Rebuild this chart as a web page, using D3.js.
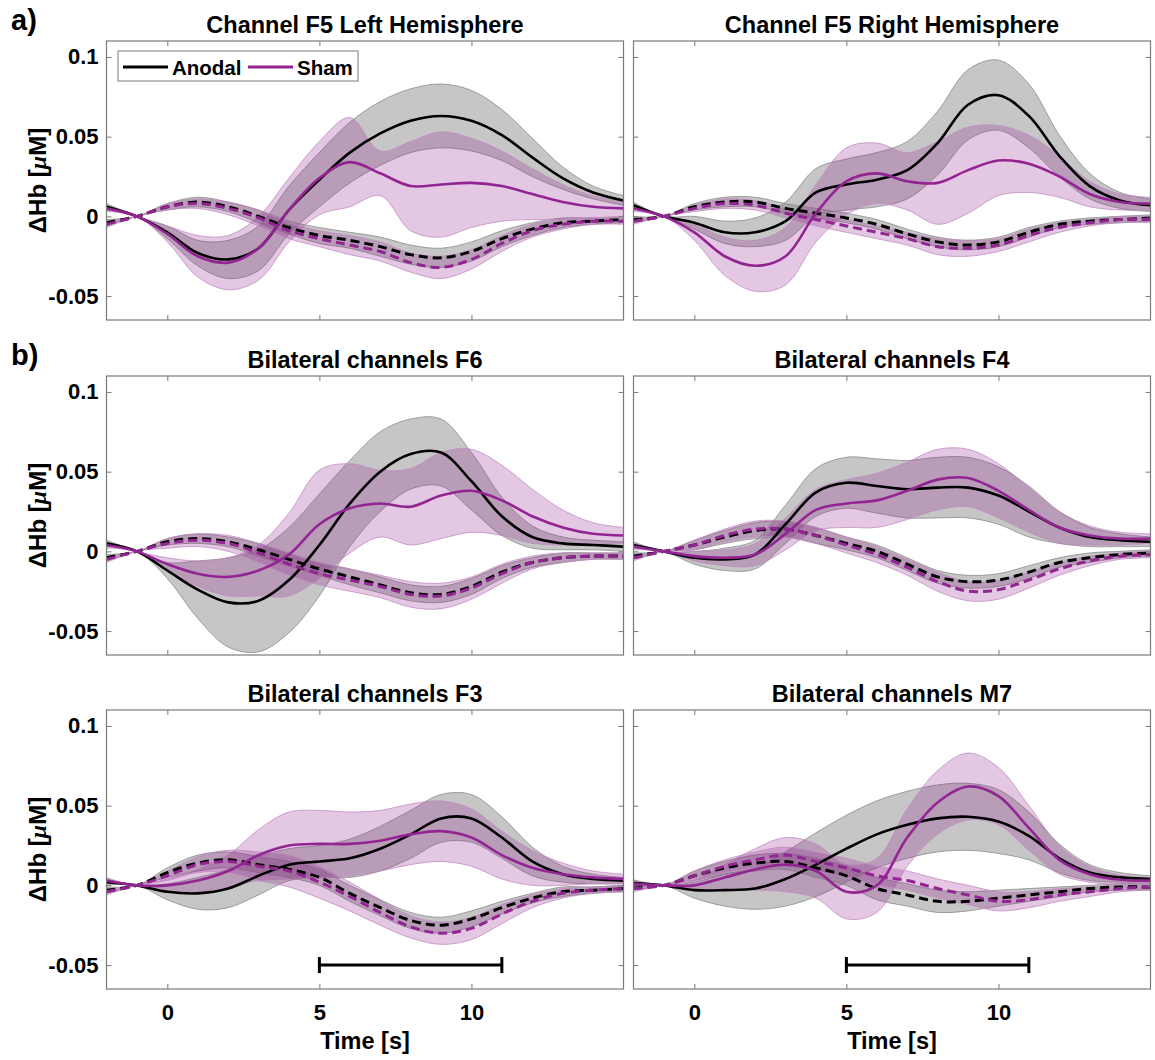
<!DOCTYPE html>
<html>
<head>
	<title>ΔHb time courses</title>
	<meta http-equiv="Content-Type" content="text/html; charset=utf-8" />
	<script type="text/javascript" charset="utf-8" src="https://cdn.jsdelivr.net/npm/d3@7/dist/d3.min.js"></script>
	<style type="text/css">
	body {
		margin: 0px;
		background-color: #fff;
	}
	svg text {
		font-family: "Liberation Sans", Arial, sans-serif;
		font-weight: bold;
		fill: #000;
	}
	</style>
</head>
<body>

<svg id="chart" width="1155" height="1060" version="1.1" xmlns="http://www.w3.org/2000/svg"></svg>

<script type="text/javascript">

// ---- data, one value per second from -2 s to 15 s ----
var v_Times       = [-2, -1, 0, 1, 2, 3, 4, 5, 6, 7, 8, 9, 10, 11, 12, 13, 14, 15];
var v_XTicks      = [0, 5, 10];
var v_YTicks      = [-0.05, 0, 0.05, 0.1];
var v_YTickLabels = ["-0.05", "0", "0.05", "0.1"];
var v_StimBar     = [5, 11];
var v_Legend      = ["Anodal", "Sham"];
var v_Titles      = ["Channel F5 Left Hemisphere", "Channel F5 Right Hemisphere",
                     "Bilateral channels F6", "Bilateral channels F4",
                     "Bilateral channels F3", "Bilateral channels M7"];

// Channel F5 left
var f5l_anoO     = [0.006, 0, -0.010, -0.023, -0.027, -0.020, 0.004, 0.023, 0.040, 0.052, 0.060, 0.063, 0.060, 0.051, 0.037, 0.024, 0.015, 0.010];
var f5l_anoOErr  = [0.002, 0, 0.004, 0.008, 0.012, 0.014, 0.015, 0.017, 0.019, 0.020, 0.020, 0.020, 0.019, 0.016, 0.012, 0.007, 0.004, 0.003];
var f5l_shamO    = [0.005, 0, -0.011, -0.025, -0.029, -0.020, 0.004, 0.024, 0.034, 0.027, 0.019, 0.020, 0.021, 0.019, 0.014, 0.009, 0.006, 0.005];
var f5l_shamOErr = [0.002, 0, 0.005, 0.013, 0.017, 0.020, 0.020, 0.023, 0.028, 0.014, 0.028, 0.033, 0.028, 0.022, 0.016, 0.011, 0.007, 0.005];
var f5l_anoR     = [-0.004, 0, 0.006, 0.009, 0.006, 0.000, -0.007, -0.012, -0.015, -0.019, -0.024, -0.026, -0.022, -0.014, -0.008, -0.004, -0.003, -0.002];
var f5l_anoRErr  = [0.002, 0, 0.002, 0.003, 0.003, 0.004, 0.004, 0.005, 0.005, 0.006, 0.006, 0.006, 0.006, 0.005, 0.004, 0.003, 0.002, 0.002];
var f5l_shamR    = [-0.005, 0, 0.006, 0.008, 0.005, -0.001, -0.009, -0.014, -0.018, -0.022, -0.029, -0.032, -0.027, -0.017, -0.009, -0.005, -0.003, -0.003];
var f5l_shamRErr = [0.002, 0, 0.002, 0.003, 0.004, 0.005, 0.005, 0.005, 0.006, 0.006, 0.006, 0.007, 0.006, 0.005, 0.004, 0.003, 0.002, 0.002];

// Channel F5 right
var f5r_anoO     = [0.007, 0, -0.004, -0.010, -0.010, -0.003, 0.015, 0.020, 0.023, 0.029, 0.046, 0.070, 0.076, 0.063, 0.038, 0.019, 0.010, 0.007];
var f5r_anoOErr  = [0.002, 0, 0.004, 0.007, 0.009, 0.012, 0.015, 0.016, 0.017, 0.018, 0.020, 0.022, 0.022, 0.020, 0.013, 0.008, 0.005, 0.004];
var f5r_shamO    = [0.005, 0, -0.010, -0.025, -0.031, -0.025, 0.002, 0.022, 0.027, 0.022, 0.021, 0.029, 0.035, 0.033, 0.025, 0.014, 0.009, 0.008];
var f5r_shamOErr = [0.002, 0, 0.005, 0.012, 0.016, 0.018, 0.018, 0.021, 0.019, 0.018, 0.026, 0.027, 0.022, 0.018, 0.013, 0.008, 0.005, 0.004];
var f5r_anoR     = [-0.002, 0, 0.006, 0.009, 0.009, 0.005, 0.002, -0.001, -0.005, -0.011, -0.016, -0.018, -0.016, -0.010, -0.005, -0.003, -0.002, -0.001];
var f5r_anoRErr  = [0.002, 0, 0.002, 0.003, 0.003, 0.003, 0.003, 0.003, 0.003, 0.003, 0.003, 0.003, 0.003, 0.003, 0.002, 0.002, 0.002, 0.002];
var f5r_shamR    = [-0.003, 0, 0.005, 0.008, 0.007, 0.002, -0.002, -0.006, -0.010, -0.014, -0.019, -0.020, -0.018, -0.012, -0.007, -0.004, -0.002, -0.002];
var f5r_shamRErr = [0.002, 0, 0.002, 0.003, 0.003, 0.003, 0.004, 0.004, 0.004, 0.004, 0.005, 0.005, 0.004, 0.004, 0.003, 0.002, 0.002, 0.002];

// Bilateral F6
var f6_anoO      = [0.005, 0, -0.012, -0.024, -0.032, -0.031, -0.018, 0.004, 0.030, 0.050, 0.061, 0.062, 0.044, 0.022, 0.009, 0.005, 0.004, 0.003];
var f6_anoOErr   = [0.002, 0, 0.005, 0.018, 0.028, 0.032, 0.033, 0.032, 0.027, 0.025, 0.022, 0.021, 0.018, 0.012, 0.007, 0.004, 0.003, 0.003];
var f6_shamO     = [0.004, 0, -0.008, -0.014, -0.016, -0.012, -0.002, 0.017, 0.027, 0.030, 0.028, 0.035, 0.038, 0.032, 0.022, 0.015, 0.011, 0.010];
var f6_shamOErr  = [0.002, 0, 0.004, 0.008, 0.012, 0.016, 0.026, 0.034, 0.028, 0.021, 0.024, 0.027, 0.026, 0.022, 0.017, 0.011, 0.007, 0.005];
var f6_anoR      = [-0.004, 0, 0.006, 0.008, 0.006, 0.001, -0.005, -0.011, -0.016, -0.021, -0.026, -0.027, -0.022, -0.013, -0.007, -0.004, -0.003, -0.003];
var f6_anoRErr   = [0.002, 0, 0.002, 0.003, 0.003, 0.004, 0.004, 0.004, 0.005, 0.005, 0.005, 0.005, 0.005, 0.004, 0.003, 0.003, 0.002, 0.002];
var f6_shamR     = [-0.005, 0, 0.005, 0.007, 0.005, -0.001, -0.008, -0.014, -0.018, -0.022, -0.027, -0.028, -0.023, -0.014, -0.007, -0.004, -0.003, -0.003];
var f6_shamRErr  = [0.002, 0, 0.003, 0.004, 0.005, 0.006, 0.007, 0.007, 0.007, 0.007, 0.008, 0.008, 0.007, 0.006, 0.004, 0.003, 0.002, 0.002];

// Bilateral F4
var f4_anoO      = [0.004, 0, -0.004, -0.005, -0.002, 0.017, 0.037, 0.043, 0.041, 0.039, 0.040, 0.040, 0.035, 0.025, 0.015, 0.009, 0.007, 0.006];
var f4_anoOErr   = [0.002, 0, 0.004, 0.007, 0.009, 0.012, 0.015, 0.016, 0.017, 0.018, 0.019, 0.019, 0.018, 0.016, 0.010, 0.006, 0.004, 0.003];
var f4_shamO     = [0.003, 0, -0.003, -0.004, -0.002, 0.011, 0.026, 0.030, 0.032, 0.038, 0.045, 0.046, 0.038, 0.026, 0.015, 0.010, 0.008, 0.008];
var f4_shamOErr  = [0.002, 0, 0.003, 0.005, 0.007, 0.010, 0.013, 0.015, 0.017, 0.018, 0.019, 0.018, 0.017, 0.014, 0.010, 0.006, 0.004, 0.003];
var f4_anoR      = [-0.003, 0, 0.004, 0.009, 0.013, 0.014, 0.010, 0.005, 0.000, -0.008, -0.016, -0.019, -0.018, -0.013, -0.007, -0.004, -0.002, -0.001];
var f4_anoRErr   = [0.002, 0, 0.003, 0.004, 0.005, 0.005, 0.005, 0.004, 0.004, 0.004, 0.004, 0.004, 0.004, 0.004, 0.003, 0.003, 0.002, 0.002];
var f4_shamR     = [-0.004, 0, 0.004, 0.010, 0.014, 0.014, 0.010, 0.004, -0.002, -0.010, -0.019, -0.025, -0.024, -0.018, -0.011, -0.006, -0.003, -0.002];
var f4_shamRErr  = [0.002, 0, 0.003, 0.004, 0.005, 0.005, 0.005, 0.005, 0.005, 0.005, 0.006, 0.006, 0.006, 0.005, 0.004, 0.003, 0.002, 0.002];

// Bilateral F3
var f3_anoO      = [0.002, 0, -0.004, -0.005, -0.002, 0.006, 0.013, 0.015, 0.017, 0.023, 0.032, 0.042, 0.042, 0.030, 0.015, 0.007, 0.004, 0.003];
var f3_anoOErr   = [0.002, 0, 0.005, 0.010, 0.012, 0.012, 0.010, 0.010, 0.012, 0.014, 0.015, 0.015, 0.015, 0.013, 0.009, 0.005, 0.003, 0.002];
var f3_shamO     = [0.003, 0, 0.000, 0.003, 0.009, 0.019, 0.025, 0.026, 0.026, 0.028, 0.032, 0.034, 0.030, 0.019, 0.011, 0.007, 0.005, 0.004];
var f3_shamOErr  = [0.002, 0, 0.004, 0.007, 0.010, 0.016, 0.021, 0.021, 0.020, 0.019, 0.019, 0.019, 0.018, 0.015, 0.011, 0.007, 0.004, 0.003];
var f3_anoR      = [-0.003, 0, 0.008, 0.014, 0.016, 0.013, 0.010, 0.005, -0.005, -0.014, -0.022, -0.025, -0.021, -0.014, -0.008, -0.004, -0.003, -0.002];
var f3_anoRErr   = [0.002, 0, 0.003, 0.005, 0.005, 0.005, 0.005, 0.005, 0.005, 0.005, 0.005, 0.005, 0.005, 0.004, 0.003, 0.003, 0.002, 0.002];
var f3_shamR     = [-0.004, 0, 0.006, 0.013, 0.015, 0.012, 0.009, 0.002, -0.007, -0.017, -0.026, -0.030, -0.027, -0.018, -0.010, -0.005, -0.003, -0.002];
var f3_shamRErr  = [0.002, 0, 0.003, 0.005, 0.007, 0.009, 0.010, 0.010, 0.009, 0.008, 0.007, 0.007, 0.007, 0.006, 0.004, 0.003, 0.002, 0.002];

// Bilateral M7
var m7_anoO      = [0.0015, 0, -0.003, -0.003, -0.002, 0.004, 0.013, 0.023, 0.032, 0.038, 0.042, 0.043, 0.040, 0.031, 0.017, 0.008, 0.005, 0.004];
var m7_anoOErr   = [0.002, 0, 0.005, 0.010, 0.013, 0.017, 0.020, 0.021, 0.021, 0.021, 0.021, 0.021, 0.020, 0.015, 0.009, 0.005, 0.003, 0.002];
var m7_shamO     = [0.001, 0, 0.000, 0.005, 0.010, 0.013, 0.009, -0.004, 0.000, 0.030, 0.052, 0.062, 0.056, 0.036, 0.016, 0.007, 0.0035, 0.003];
var m7_shamOErr  = [0.002, 0, 0.003, 0.008, 0.013, 0.017, 0.017, 0.017, 0.017, 0.018, 0.020, 0.021, 0.018, 0.014, 0.009, 0.005, 0.003, 0.002];
var m7_anoR      = [-0.001, 0, 0.006, 0.011, 0.014, 0.015, 0.011, 0.006, -0.002, -0.006, -0.010, -0.010, -0.008, -0.006, -0.004, -0.002, -0.001, -0.001];
var m7_anoRErr   = [0.002, 0, 0.003, 0.004, 0.005, 0.005, 0.006, 0.006, 0.007, 0.007, 0.007, 0.006, 0.005, 0.004, 0.003, 0.002, 0.002, 0.002];
var m7_shamR     = [-0.002, 0, 0.006, 0.012, 0.016, 0.019, 0.015, 0.011, 0.006, 0.003, -0.002, -0.006, -0.010, -0.009, -0.006, -0.004, -0.002, -0.001];
var m7_shamRErr  = [0.002, 0, 0.003, 0.004, 0.005, 0.005, 0.006, 0.006, 0.006, 0.006, 0.006, 0.006, 0.006, 0.005, 0.004, 0.003, 0.002, 0.002];

// panel table built from the arrays above
var v_Panels = [
	{title: v_Titles[0], anoO: [f5l_anoO, f5l_anoOErr], anoR: [f5l_anoR, f5l_anoRErr], shamO: [f5l_shamO, f5l_shamOErr], shamR: [f5l_shamR, f5l_shamRErr]},
	{title: v_Titles[1], anoO: [f5r_anoO, f5r_anoOErr], anoR: [f5r_anoR, f5r_anoRErr], shamO: [f5r_shamO, f5r_shamOErr], shamR: [f5r_shamR, f5r_shamRErr]},
	{title: v_Titles[2], anoO: [f6_anoO,  f6_anoOErr],  anoR: [f6_anoR,  f6_anoRErr],  shamO: [f6_shamO,  f6_shamOErr],  shamR: [f6_shamR,  f6_shamRErr]},
	{title: v_Titles[3], anoO: [f4_anoO,  f4_anoOErr],  anoR: [f4_anoR,  f4_anoRErr],  shamO: [f4_shamO,  f4_shamOErr],  shamR: [f4_shamR,  f4_shamRErr]},
	{title: v_Titles[4], anoO: [f3_anoO,  f3_anoOErr],  anoR: [f3_anoR,  f3_anoRErr],  shamO: [f3_shamO,  f3_shamOErr],  shamR: [f3_shamR,  f3_shamRErr]},
	{title: v_Titles[5], anoO: [m7_anoO,  m7_anoOErr],  anoR: [m7_anoR,  m7_anoRErr],  shamO: [m7_shamO,  m7_shamOErr],  shamR: [m7_shamR,  m7_shamRErr]}
];

// ---- layout & style ----
var b = {colX: [106.5, 633.5], rowY: [41, 376, 710], w: 517, h: 279, tick: 5};

var v_Colors = {
	anodal:     "#000000",
	sham:       "#922592",
	grayFill:   "rgba(128,128,128,0.45)",
	grayEdge:   "#8a8a8a",
	purpleFill: "rgba(146,37,146,0.26)",
	purpleEdge: "#c28dc2",
	axis:       "#7a7a7a"
};

var v_X = d3.scaleLinear().domain([-2, 15]).range([0, b.w]);
var v_Y = d3.scaleLinear().domain([-0.065, 0.11]).range([b.h, 0]);

var v_Curve = d3.curveCatmullRom.alpha(0.5);

function toPoints(i_Mean, i_Err, i_Sign)
{
	return v_Times.map(function(t, i) { return {t: t, v: i_Mean[i] + i_Sign * i_Err[i]}; });
}

var v_Line = d3.line()
	.x(function(d) { return v_X(d.t); })
	.y(function(d) { return v_Y(d.v); })
	.curve(v_Curve);

var v_Band = d3.area()
	.x(function(d) { return v_X(d.t); })
	.y0(function(d) { return v_Y(d.lo); })
	.y1(function(d) { return v_Y(d.hi); })
	.curve(v_Curve);

var v_SVG = d3.select("#chart");

function drawBand(i_G, i_Series, i_Fill, i_Edge)
{
	var v_Data = v_Times.map(function(t, i)
	{
		return {t: t, lo: i_Series[0][i] - i_Series[1][i], hi: i_Series[0][i] + i_Series[1][i]};
	});
	i_G.append("path").attr("d", v_Band(v_Data)).attr("fill", i_Fill).attr("stroke", "none");
	i_G.append("path").attr("d", v_Line(toPoints(i_Series[0], i_Series[1], 1)))
		.attr("fill", "none").attr("stroke", i_Edge).attr("stroke-width", 0.8);
	i_G.append("path").attr("d", v_Line(toPoints(i_Series[0], i_Series[1], -1)))
		.attr("fill", "none").attr("stroke", i_Edge).attr("stroke-width", 0.8);
}

function drawMean(i_G, i_Series, i_Color, i_Dashed)
{
	var v_Path = i_G.append("path")
		.attr("d", v_Line(toPoints(i_Series[0], i_Series[1], 0)))
		.attr("fill", "none")
		.attr("stroke", i_Color)
		.attr("stroke-width", i_Dashed ? 3 : 2.6);
	if ( i_Dashed )
	{
		v_Path.attr("stroke-dasharray", "9,5");
	}
}

v_Panels.forEach(function(p, i)
{
	var v_Col = i % 2;
	var v_Row = Math.floor(i / 2);
	var v_G   = v_SVG.append("g")
		.attr("transform", "translate(" + b.colX[v_Col] + "," + b.rowY[v_Row] + ")");

	v_SVG.append("clipPath").attr("id", "clip" + i)
		.append("rect").attr("width", b.w).attr("height", b.h);

	var v_Plot = v_G.append("g").attr("clip-path", "url(#clip" + i + ")");

	drawBand(v_Plot, p.anoO,  v_Colors.grayFill,   v_Colors.grayEdge);
	drawBand(v_Plot, p.anoR,  v_Colors.grayFill,   v_Colors.grayEdge);
	drawBand(v_Plot, p.shamO, v_Colors.purpleFill, v_Colors.purpleEdge);
	drawBand(v_Plot, p.shamR, v_Colors.purpleFill, v_Colors.purpleEdge);

	drawMean(v_Plot, p.anoR,  v_Colors.anodal, true);
	drawMean(v_Plot, p.anoO,  v_Colors.anodal, false);
	drawMean(v_Plot, p.shamR, v_Colors.sham,   true);
	drawMean(v_Plot, p.shamO, v_Colors.sham,   false);

	// stimulation bar on the bottom row
	if ( v_Row == 2 )
	{
		var v_BarY = v_Y(-0.05);
		v_G.append("line")
			.attr("x1", v_X(v_StimBar[0])).attr("x2", v_X(v_StimBar[1]))
			.attr("y1", v_BarY).attr("y2", v_BarY)
			.attr("stroke", "#000").attr("stroke-width", 3);
		v_StimBar.forEach(function(t)
		{
			v_G.append("line")
				.attr("x1", v_X(t)).attr("x2", v_X(t))
				.attr("y1", v_BarY - 8).attr("y2", v_BarY + 8)
				.attr("stroke", "#000").attr("stroke-width", 3);
		});
	}

	// axes, ticks pointing inward on all four sides
	var v_Bottom = d3.axisBottom(v_X).tickValues(v_XTicks).tickSize(-b.tick).tickPadding(15)
		.tickFormat(v_Row == 2 ? d3.format("d") : function() { return ""; });
	var v_Top    = d3.axisTop(v_X).tickValues(v_XTicks).tickSize(-b.tick).tickFormat(function() { return ""; });
	var v_Left   = d3.axisLeft(v_Y).tickValues(v_YTicks).tickSize(-b.tick).tickPadding(8)
		.tickFormat(function(d, k) { return v_Col == 0 ? v_YTickLabels[k] : ""; });
	var v_Right  = d3.axisRight(v_Y).tickValues(v_YTicks).tickSize(-b.tick).tickFormat(function() { return ""; });

	var v_AxB = v_G.append("g").attr("transform", "translate(0," + b.h + ")").call(v_Bottom);
	var v_AxT = v_G.append("g").call(v_Top);
	var v_AxL = v_G.append("g").call(v_Left);
	var v_AxR = v_G.append("g").attr("transform", "translate(" + b.w + ",0)").call(v_Right);

	[v_AxB, v_AxT, v_AxL, v_AxR].forEach(function(ax)
	{
		ax.select(".domain").remove();
		ax.selectAll(".tick line").attr("stroke", v_Colors.axis).attr("stroke-width", 1);
		ax.selectAll(".tick text")
			.attr("font-family", "'Liberation Sans', Arial, sans-serif")
			.attr("font-weight", "bold")
			.attr("font-size", 22)
			.attr("fill", "#000");
	});

	v_G.append("rect")
		.attr("width", b.w).attr("height", b.h)
		.attr("fill", "none")
		.attr("stroke", v_Colors.axis)
		.attr("stroke-width", 1.2);

	// title
	v_G.append("text")
		.attr("x", b.w / 2).attr("y", -8)
		.attr("text-anchor", "middle")
		.attr("font-size", 23.5)
		.text(p.title);

	// y label on the left column
	if ( v_Col == 0 )
	{
		var v_YLab = v_G.append("text")
			.attr("transform", "translate(" + (-b.colX[0] + 46) + "," + (b.h / 2) + ") rotate(-90)")
			.attr("text-anchor", "middle")
			.attr("font-size", 24);
		v_YLab.append("tspan").text("\u0394Hb [");
		v_YLab.append("tspan").attr("font-style", "italic").attr("font-family", "'Liberation Serif', serif").text("\u03bc");
		v_YLab.append("tspan").text("M]");
	}

	// x label on the bottom row
	if ( v_Row == 2 )
	{
		v_G.append("text")
			.attr("x", b.w / 2).attr("y", b.h + 60)
			.attr("text-anchor", "middle")
			.attr("font-size", 23.5)
			.text("Time [s]");
	}

	// legend in the first panel
	if ( i == 0 )
	{
		var v_Leg = v_G.append("g").attr("transform", "translate(11.5,10)");
		v_Leg.append("rect")
			.attr("width", 240).attr("height", 30)
			.attr("fill", "#fff")
			.attr("stroke", v_Colors.axis)
			.attr("stroke-width", 1);
		var v_LegItems = [{x: 5, color: v_Colors.anodal, label: v_Legend[0]},
		                  {x: 130, color: v_Colors.sham, label: v_Legend[1]}];
		v_LegItems.forEach(function(d)
		{
			v_Leg.append("line")
				.attr("x1", d.x).attr("x2", d.x + 45)
				.attr("y1", 16).attr("y2", 16)
				.attr("stroke", d.color).attr("stroke-width", 3);
			v_Leg.append("text")
				.attr("x", d.x + 49).attr("y", 23.5)
				.attr("font-size", 20.5)
				.text(d.label);
		});
	}
});

// panel letters
v_SVG.append("text").attr("x", 11).attr("y", 30).attr("font-size", 29).text("a)");
v_SVG.append("text").attr("x", 11).attr("y", 365).attr("font-size", 29).text("b)");

</script>

</body>
</html>
